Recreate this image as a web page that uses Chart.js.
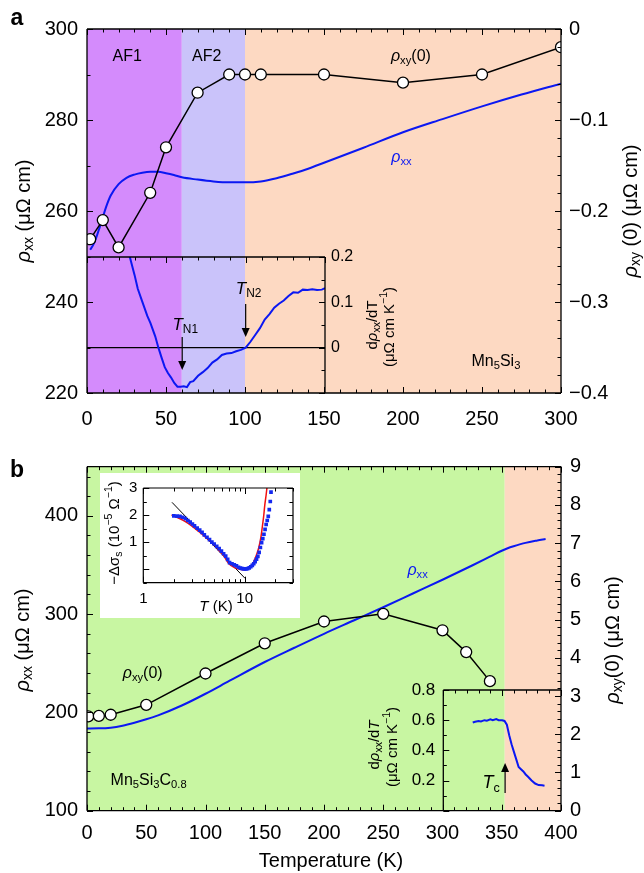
<!DOCTYPE html>
<html>
<head>
<meta charset="utf-8">
<script src="https://cdn.jsdelivr.net/npm/chart.js@4.4.1/dist/chart.umd.min.js"></script>
<style>
  body { margin: 0; background: #fff; }
  #wrap { position: relative; width: 644px; height: 873px; }
  canvas { position: absolute; }
</style>
</head>
<body>
<div id="wrap">
  <canvas id="cA" width="644" height="440" style="left:0px;top:0px"></canvas>
  <canvas id="cA2" width="644" height="440" style="left:0px;top:0px"></canvas>
  <canvas id="cB" width="644" height="433" style="left:0px;top:440px"></canvas>
  <canvas id="cB2" width="644" height="433" style="left:0px;top:440px"></canvas>
  <canvas id="cB3" width="200" height="145" style="left:100px;top:473px;background:#fff"></canvas>
</div>
<script>
// ---- panel a: Mn5Si3 ----
const tRhoA = [2, 4, 6, 8, 10, 12, 15, 20, 25, 30, 35, 40, 45, 50, 55, 60, 70, 80, 90, 100, 110, 120, 130, 140, 150, 175, 200, 225, 250, 275, 300];
const rhoA  = [251.5, 252.6, 254.3, 256.4, 258.6, 260.8, 263.4, 265.9, 267.3, 268.0, 268.4, 268.6, 268.6, 268.3, 267.9, 267.4, 266.9, 266.5, 266.3, 266.3, 266.5, 267.2, 268.2, 269.3, 270.6, 273.9, 277.3, 280.2, 283.0, 285.6, 288.0];
const tXyA  = [2, 10, 20, 40, 50, 70, 90, 100, 110, 150, 200, 250, 300];
const xyA   = [-0.231, -0.210, -0.240, -0.180, -0.130, -0.070, -0.050, -0.050, -0.050, -0.050, -0.059, -0.050, -0.020];
// inset a: d rho / dT
const tDA = [20, 24, 27, 30, 32, 35, 38, 40, 43, 45, 47, 49, 51, 53, 55, 57, 59, 61, 63, 65, 67, 70, 73, 76, 79, 82, 85, 88, 91, 94, 97, 100, 103, 106, 109, 112, 115, 118, 121, 124, 127, 130, 133, 136, 139, 142, 145, 148, 150];
const dA  = [0.32, 0.25, 0.2, 0.16, 0.13, 0.10, 0.07, 0.054, 0.025, 0.0, -0.022, -0.043, -0.056, -0.066, -0.078, -0.086, -0.086, -0.085, -0.087, -0.076, -0.074, -0.062, -0.054, -0.045, -0.033, -0.026, -0.016, -0.013, -0.012, -0.008, -0.005, 0.0, 0.013, 0.028, 0.043, 0.062, 0.074, 0.088, 0.097, 0.104, 0.114, 0.122, 0.121, 0.128, 0.127, 0.129, 0.127, 0.128, 0.131];

// ---- panel b: Mn5Si3C0.8 ----
const tRhoB = [0, 10, 20, 30, 40, 50, 60, 80, 100, 120, 150, 175, 200, 225, 250, 275, 300, 325, 340, 350, 355, 360, 370, 380, 387];
const rhoB  = [183.7, 183.8, 184.5, 186.5, 189.5, 193, 197, 207, 219, 232, 251.3, 265.8, 280, 293.5, 307, 321, 335, 349.5, 358.5, 364.5, 367, 369, 372.5, 375, 376.5];
const tXyB  = [1, 10, 20, 50, 100, 150, 200, 250, 300, 320, 340];
const xyB   = [2.47, 2.48, 2.51, 2.77, 3.59, 4.38, 4.95, 5.15, 4.72, 4.15, 3.39];
// inset b (bottom right): d rho / dT
const tDB = [325, 327, 330, 332, 335, 337, 340, 342, 345, 347, 350, 352, 354, 356, 358, 360, 362, 364, 366, 368, 370, 372, 375, 378, 381, 384, 386];
const dB  = [0.585, 0.59, 0.595, 0.592, 0.6, 0.597, 0.605, 0.6, 0.607, 0.6, 0.6, 0.595, 0.57, 0.5, 0.44, 0.39, 0.34, 0.29, 0.275, 0.26, 0.24, 0.225, 0.2, 0.18, 0.17, 0.168, 0.165];
// inset b (top left): -delta sigma vs log T
const tSq = [2.0, 2.15, 2.3, 2.45, 2.6, 2.75, 2.9, 3.05, 3.2, 3.4, 3.6, 3.8, 4.0, 4.25, 4.5, 4.75, 5.0, 5.3, 5.6, 5.9, 6.2, 6.5, 6.8, 7.1, 7.5, 7.9, 8.3, 8.7, 9.1, 9.5, 9.9, 10.3, 10.7, 11.1, 11.5, 11.9, 12.3, 12.7, 13.1, 13.5, 13.9, 14.3, 14.7, 15.1, 15.5, 15.9, 16.3, 16.7, 17.1, 17.5, 17.9, 18.2];
const sq  = [1.97, 1.96, 1.95, 1.92, 1.87, 1.80, 1.74, 1.67, 1.60, 1.52, 1.44, 1.36, 1.27, 1.18, 1.09, 1.00, 0.93, 0.84, 0.76, 0.67, 0.57, 0.48, 0.36, 0.24, 0.20, 0.16, 0.12, 0.07, 0.04, 0.02, 0.01, 0.01, 0.02, 0.05, 0.09, 0.14, 0.2, 0.28, 0.37, 0.47, 0.62, 0.8, 0.98, 1.13, 1.29, 1.47, 1.65, 1.8, 1.95, 2.2, 2.5, 2.85];
const tRed = [1.9, 2.2, 2.6, 3.0, 3.5, 4.0, 4.5, 5.0, 5.5, 6.2, 7.0, 8.0, 9.0, 10.0, 10.6, 11.5, 12.3, 13.0, 13.8, 14.5, 14.9, 15.4, 15.8, 16.3, 16.7];
const red  = [2.0, 1.9, 1.76, 1.6, 1.4, 1.22, 1.05, 0.9, 0.72, 0.5, 0.2, 0.05, 0.0, -0.02, 0.0, 0.12, 0.27, 0.5, 0.8, 1.2, 1.53, 1.95, 2.37, 2.75, 3.1];
const tLog = [1.92, 10.1];
const logFit = [2.47, -0.34];

const FONT = '"Liberation Sans", Arial, Helvetica, sans-serif';
const BLUE = '#0b18f2';
Chart.defaults.font.family = FONT;
Chart.defaults.color = '#000';

const $ = id => document.getElementById(id);
const pts = (xs, ys) => xs.map((x, i) => ({ x, y: ys[i] }));
const steps = (a, b, st) => { const r = []; for (let v = a; v <= b + 1e-9; v += st) r.push(+v.toFixed(6)); return r; };
const near = (v, m) => Math.abs(v / m - Math.round(v / m)) < 1e-6;

// text with italic / sub / superscript parts
function rich(ctx, parts, x, y, size, opt = {}) {
  ctx.save();
  const segs = parts.map(([t, f = '']) => {
    const small = f.includes('_') || f.includes('^');
    const s = small ? size * 0.7 : size;
    const font = (f.includes('i') ? 'italic ' : '') + (f.includes('b') ? 'bold ' : '') + s + 'px ' + FONT;
    ctx.font = font;
    return { t, font, w: ctx.measureText(t).width, dy: f.includes('_') ? size * 0.28 : f.includes('^') ? -size * 0.36 : 0 };
  });
  const total = segs.reduce((a, s) => a + s.w, 0);
  ctx.translate(x, y);
  if (opt.rot) ctx.rotate(opt.rot);
  ctx.fillStyle = opt.color || '#000';
  ctx.textBaseline = 'middle';
  ctx.textAlign = 'left';
  let cx = -total / 2;
  segs.forEach(s => { ctx.font = s.font; ctx.fillText(s.t, cx, s.dy); cx += s.w; });
  ctx.restore();
}

function ticks(chart, id, vals, major, sides) {
  const s = chart.scales[id], a = chart.chartArea, ctx = chart.ctx;
  ctx.save();
  ctx.strokeStyle = '#000';
  ctx.lineWidth = 1;
  ctx.beginPath();
  vals.forEach(v => {
    const p = Math.round(s.getPixelForValue(v)) + 0.5;
    const L = major(v) ? 6 : 3.5;
    sides.forEach(side => {
      if (side === 'bottom') { ctx.moveTo(p, a.bottom); ctx.lineTo(p, a.bottom - L); }
      if (side === 'top') { ctx.moveTo(p, a.top); ctx.lineTo(p, a.top + L); }
      if (side === 'left') { ctx.moveTo(a.left, p); ctx.lineTo(a.left + L, p); }
      if (side === 'right') { ctx.moveTo(a.right, p); ctx.lineTo(a.right - L, p); }
    });
  });
  ctx.stroke();
  ctx.restore();
}

function bands(chart, list) {
  const x = chart.scales.x, a = chart.chartArea, ctx = chart.ctx;
  ctx.save();
  list.forEach(([x0, x1, c]) => {
    const p0 = x.getPixelForValue(x0), p1 = x.getPixelForValue(x1);
    ctx.fillStyle = c;
    ctx.fillRect(p0, a.top, p1 - p0, a.height);
  });
  ctx.restore();
}

function edges(chart, sides, lw = 1.3) {
  const a = chart.chartArea, ctx = chart.ctx;
  ctx.save();
  ctx.strokeStyle = '#000';
  ctx.lineWidth = lw;
  ctx.beginPath();
  if (sides.includes('top')) { ctx.moveTo(a.left, a.top); ctx.lineTo(a.right, a.top); }
  if (sides.includes('bottom')) { ctx.moveTo(a.left, a.bottom); ctx.lineTo(a.right, a.bottom); }
  if (sides.includes('left')) { ctx.moveTo(a.left, a.top); ctx.lineTo(a.left, a.bottom); }
  if (sides.includes('right')) { ctx.moveTo(a.right, a.top); ctx.lineTo(a.right, a.bottom); }
  ctx.stroke();
  ctx.restore();
}

function arrow(ctx, x, y0, y1) {
  const dir = y1 > y0 ? 1 : -1;
  ctx.save();
  ctx.strokeStyle = '#000';
  ctx.fillStyle = '#000';
  ctx.lineWidth = 1.2;
  ctx.beginPath();
  ctx.moveTo(x, y0);
  ctx.lineTo(x, y1 - dir * 6);
  ctx.stroke();
  ctx.beginPath();
  ctx.moveTo(x, y1);
  ctx.lineTo(x - 4, y1 - dir * 9);
  ctx.lineTo(x + 4, y1 - dir * 9);
  ctx.closePath();
  ctx.fill();
  ctx.restore();
}

const at = (chart, xv, yv, yId = 'y') => [chart.scales.x.getPixelForValue(xv), chart.scales[yId].getPixelForValue(yv)];
const noGrid = { display: false, drawTicks: false };
const noBorder = { display: false };
const base = {
  responsive: false,
  animation: false,
  devicePixelRatio: 1,
  plugins: { legend: { display: false }, tooltip: { enabled: false } }
};
const minus = v => (v < 0 ? '\u2212' : '') + Math.abs(v).toFixed(1);
const PURPLE = '#d48bfc', LAV = '#cac3fa', PEACH = '#fdd9c2', GREEN = '#c8f6a2';

// ---------- panel a main ----------
new Chart($('cA'), {
  type: 'line',
  data: {
    datasets: [
      { data: pts(tXyA, xyA), yAxisID: 'y2', borderColor: '#000', borderWidth: 1.5, pointRadius: 5.5,
        pointBackgroundColor: '#fff', pointBorderColor: '#000', pointBorderWidth: 1.3 },
      { data: pts(tRhoA, rhoA), yAxisID: 'y', borderColor: BLUE, borderWidth: 2, pointRadius: 0, cubicInterpolationMode: 'monotone' }
    ]
  },
  options: {
    ...base,
    layout: { padding: { top: 29, left: 0, right: 0, bottom: 0 } },
    scales: {
      x: { type: 'linear', min: 0, max: 300, grid: noGrid, border: noBorder,
        ticks: { stepSize: 50, padding: 14, font: { size: 20 }, maxRotation: 0 },
        afterFit: s => { s.height = 47; } },
      y: { position: 'left', min: 220, max: 300, grid: noGrid, border: noBorder,
        ticks: { stepSize: 20, padding: 9, font: { size: 20 } },
        afterFit: s => { s.width = 87; } },
      y2: { position: 'right', min: -0.4, max: 0, grid: noGrid, border: noBorder,
        ticks: { stepSize: 0.1, padding: 8, font: { size: 20 }, callback: v => Math.abs(v) < 1e-9 ? '0' : minus(v) },
        afterFit: s => { s.width = 83; } }
    }
  },
  plugins: [{
    id: 'decoA',
    beforeDatasetsDraw(c) { bands(c, [[0, 60, PURPLE], [60, 100, LAV], [100, 300, PEACH]]); },
    afterDraw(c) {
      const ctx = c.ctx;
      edges(c, ['top', 'bottom', 'left', 'right']);
      ticks(c, 'x', steps(0, 300, 10), v => near(v, 50), ['bottom', 'top']);
      ticks(c, 'y', steps(220, 300, 10), v => near(v, 20), ['left']);
      ticks(c, 'y2', steps(-0.4, 0, 0.02), v => near(v, 0.1), ['right']);
      rich(ctx, [['AF1']], ...at(c, 25.5, 293.9), 16);
      rich(ctx, [['AF2']], ...at(c, 75.8, 293.9), 16);
      rich(ctx, [['ρ', 'i'], ['xy', '_'], ['(0)']], ...at(c, 205, 293.9), 16);
      rich(ctx, [['ρ', 'i'], ['xx', '_']], ...at(c, 199, 271.7), 16, { color: BLUE });
      rich(ctx, [['Mn'], ['5', '_'], ['Si'], ['3', '_']], ...at(c, 258.8, 227), 16);
      rich(ctx, [['a', 'b']], 17, 19, 23);
      rich(ctx, [['ρ', 'i'], ['xx', '_'], [' (μΩ cm)']], 24, 211, 20, { rot: -Math.PI / 2 });
      rich(ctx, [['ρ', 'i'], ['xy', '_'], [' (0) (μΩ cm)']], 631, 211, 20, { rot: -Math.PI / 2 });
    }
  }]
});

// ---------- panel a inset ----------
new Chart($('cA2'), {
  type: 'line',
  data: { datasets: [{ data: pts(tDA, dA), borderColor: BLUE, borderWidth: 2, pointRadius: 0 }] },
  options: {
    ...base,
    layout: { padding: { top: 257, left: 87, right: 644 - 325 - 44, bottom: 47 } },
    scales: {
      x: { type: 'linear', min: 0, max: 150, display: false },
      y: { position: 'right', min: -0.1, max: 0.2, grid: noGrid, border: noBorder,
        ticks: { stepSize: 0.1, padding: 6, font: { size: 16 },
          callback: v => v < -0.01 ? '' : (Math.abs(v) < 1e-9 ? '0' : v.toFixed(1)) },
        afterFit: s => { s.width = 44; } }
    }
  },
  plugins: [{
    id: 'decoA2',
    beforeDatasetsDraw(c) {
      const ctx = c.ctx, a = c.chartArea, y0 = c.scales.y.getPixelForValue(0);
      ctx.save();
      ctx.strokeStyle = '#000';
      ctx.lineWidth = 1.2;
      ctx.beginPath();
      ctx.moveTo(a.left, y0);
      ctx.lineTo(a.right, y0);
      ctx.stroke();
      ctx.restore();
    },
    afterDraw(c) {
      const ctx = c.ctx;
      edges(c, ['top', 'right']);
      ticks(c, 'x', steps(0, 150, 10), v => near(v, 50), ['top']);
      ticks(c, 'y', steps(-0.1, 0.2, 0.05), v => near(v, 0.1), ['right']);
      const [x1] = at(c, 60, 0), [x2] = at(c, 100, 0);
      arrow(ctx, x1, 337, 370);
      arrow(ctx, x2, 304, 337);
      rich(ctx, [['T', 'i'], ['N1', '_']], x1 + 3, 325, 17);
      rich(ctx, [['T', 'i'], ['N2', '_']], x2 + 3, 289, 17);
      rich(ctx, [['d'], ['ρ', 'i'], ['xx', '_'], ['/dT']], 373, 325, 15, { rot: -Math.PI / 2 });
      rich(ctx, [['(μΩ cm K'], ['−1', '^'], [')']], 390, 327, 15, { rot: -Math.PI / 2 });
    }
  }]
});

// ---------- panel b main ----------
new Chart($('cB'), {
  type: 'line',
  data: {
    datasets: [
      { data: pts(tXyB, xyB), yAxisID: 'y2', borderColor: '#000', borderWidth: 1.5, pointRadius: 5.5,
        pointBackgroundColor: '#fff', pointBorderColor: '#000', pointBorderWidth: 1.3 },
      { data: pts(tRhoB, rhoB), yAxisID: 'y', borderColor: BLUE, borderWidth: 2, pointRadius: 0, cubicInterpolationMode: 'monotone' }
    ]
  },
  options: {
    ...base,
    layout: { padding: { top: 26.7, left: 0, right: 0, bottom: 0 } },
    scales: {
      x: { type: 'linear', min: 0, max: 400, grid: noGrid, border: noBorder,
        ticks: { stepSize: 50, padding: 11, font: { size: 20 }, maxRotation: 0 },
        afterFit: s => { s.height = 433 - 370.7; } },
      y: { position: 'left', min: 100, max: 450, grid: noGrid, border: noBorder,
        ticks: { stepSize: 100, padding: 9, font: { size: 20 }, callback: v => near(v, 100) ? String(v) : '' },
        afterFit: s => { s.width = 87; } },
      y2: { position: 'right', min: 0, max: 9, grid: noGrid, border: noBorder,
        ticks: { stepSize: 1, padding: 9, font: { size: 20 } },
        afterFit: s => { s.width = 83; } }
    }
  },
  plugins: [{
    id: 'decoB',
    beforeDatasetsDraw(c) { bands(c, [[0, 352.5, GREEN], [352.5, 400, PEACH]]); },
    afterDraw(c) {
      const ctx = c.ctx;
      edges(c, ['top', 'bottom', 'left', 'right']);
      ticks(c, 'x', steps(0, 400, 10), v => near(v, 50), ['bottom', 'top']);
      ticks(c, 'y', steps(100, 440, 20), v => near(v, 100), ['left']);
      ticks(c, 'y2', steps(0, 9, 0.2), v => near(v, 1), ['right']);
      rich(ctx, [['ρ', 'i'], ['xx', '_']], ...at(c, 279, 344), 16, { color: BLUE });
      rich(ctx, [['ρ', 'i'], ['xy', '_'], ['(0)']], ...at(c, 47, 240), 16);
      rich(ctx, [['Mn'], ['5', '_'], ['Si'], ['3', '_'], ['C'], ['0.8', '_']], ...at(c, 52, 131), 16);
      rich(ctx, [['b', 'b']], 17, 31, 23);
      rich(ctx, [['ρ', 'i'], ['xx', '_'], [' (μΩ cm)']], 23, 200, 20, { rot: -Math.PI / 2 });
      rich(ctx, [['ρ', 'i'], ['xy', '_'], ['(0) (μΩ cm)']], 613, 200, 20, { rot: -Math.PI / 2 });
      rich(ctx, [['Temperature (K)']], 331, 421, 20);
    }
  }]
});

// ---------- panel b inset (dρ/dT near Tc) ----------
new Chart($('cB2'), {
  type: 'line',
  data: { datasets: [{ data: pts(tDB, dB), borderColor: BLUE, borderWidth: 2, pointRadius: 0 }] },
  options: {
    ...base,
    layout: { padding: { top: 250, left: 443.3 - 42, right: 83, bottom: 433 - 370.7 } },
    scales: {
      x: { type: 'linear', min: 300, max: 400, display: false },
      y: { position: 'left', min: 0, max: 0.8, grid: noGrid, border: noBorder,
        ticks: { stepSize: 0.2, padding: 8, font: { size: 17 }, callback: v => Math.abs(v) < 1e-9 ? '' : v.toFixed(1) },
        afterFit: s => { s.width = 42; } }
    }
  },
  plugins: [{
    id: 'decoB2',
    afterDraw(c) {
      const ctx = c.ctx;
      edges(c, ['top', 'left']);
      ticks(c, 'x', steps(300, 400, 10), v => near(v, 50), ['top']);
      ticks(c, 'y', steps(0, 0.8, 0.1), v => near(v, 0.2), ['left']);
      const [xc] = at(c, 352.5, 0);
      arrow(ctx, xc, 353, 323);
      rich(ctx, [['T', 'i'], ['c', '_']], xc - 14, 343, 18);
      rich(ctx, [['d'], ['ρ', 'i'], ['xx', '_'], ['/d'], ['T', 'i']], 375, 305, 15, { rot: -Math.PI / 2 });
      rich(ctx, [['(μΩ cm K'], ['−1', '^'], [')']], 393, 307, 15, { rot: -Math.PI / 2 });
    }
  }]
});

// ---------- panel b inset (log T) ----------
new Chart($('cB3'), {
  type: 'line',
  data: {
    datasets: [
      { data: pts(tSq, sq), showLine: false, pointStyle: 'rect', pointRadius: 2.6, pointBackgroundColor: '#1428f0', pointBorderWidth: 0 },
      { data: pts(tRed, red), borderColor: '#f21010', borderWidth: 1.5, pointRadius: 0, cubicInterpolationMode: 'monotone' },
      { data: pts(tLog, logFit), borderColor: '#000', borderWidth: 1, pointRadius: 0 }
    ]
  },
  options: {
    ...base,
    layout: { padding: { top: 12.7, left: 0, right: 6, bottom: 0 } },
    scales: {
      x: { type: 'logarithmic', min: 1, max: 30, grid: noGrid, border: noBorder,
        ticks: { padding: 7, font: { size: 15 }, autoSkip: false, maxRotation: 0,
          callback: v => (v === 1 || v === 10) ? String(v) : '' },
        afterFit: s => { s.height = 145 - 109.7; } },
      y: { position: 'left', min: -0.5, max: 3, grid: noGrid, border: noBorder,
        ticks: { stepSize: 1, padding: 6, font: { size: 15 }, callback: v => Number.isInteger(v) ? String(v) : '' },
        afterFit: s => { s.width = 43.3; } }
    }
  },
  plugins: [{
    id: 'decoB3',
    afterDraw(c) {
      const ctx = c.ctx;
      edges(c, ['top', 'bottom', 'left', 'right'], 1.2);
      const logVals = [1, 2, 3, 4, 5, 6, 7, 8, 9, 10, 20, 30];
      ticks(c, 'x', logVals, v => v === 1 || v === 10, ['bottom', 'top']);
      ticks(c, 'y', steps(-0.5, 3, 0.5), v => Number.isInteger(v), ['left', 'right']);
      rich(ctx, [['T', 'i'], [' (K)']], 116, 134, 15);
      rich(ctx, [['−Δσ'], ['s', '_'], [' (10'], ['−5', '^'], [' Ω'], ['−1', '^'], [')']], 15, 60, 15, { rot: -Math.PI / 2 });
    }
  }]
});
</script>
</body>
</html>
